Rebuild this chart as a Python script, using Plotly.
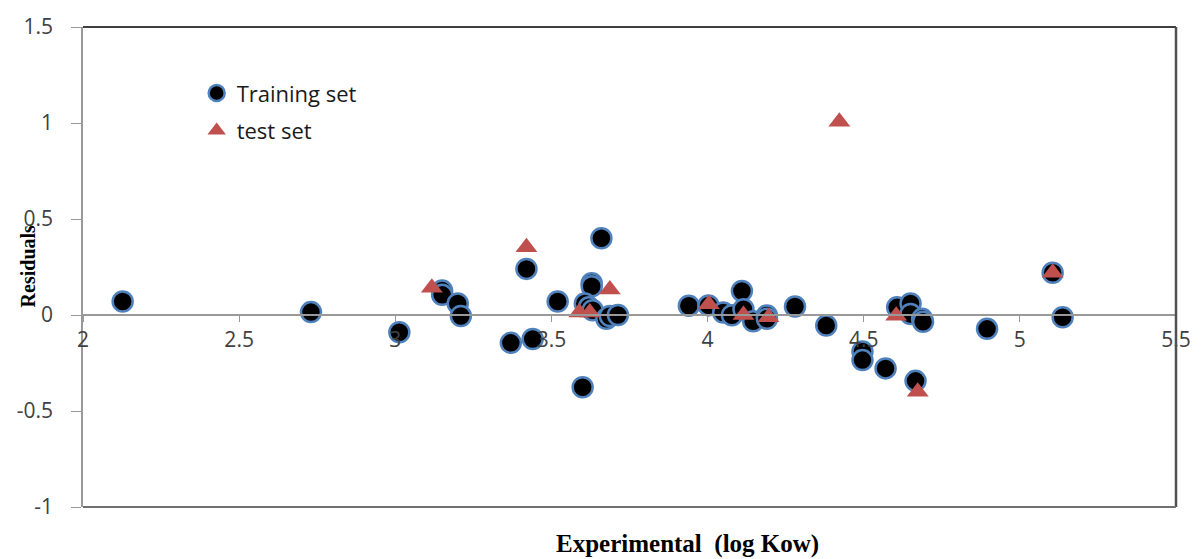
import plotly.graph_objects as go

# Training set (Experimental log Kow, residual)
train_x = [2.127, 2.73, 3.013, 3.15, 3.15, 3.20, 3.21, 3.37, 3.44, 3.42, 3.52, 3.66,
           3.629, 3.629, 3.607, 3.62, 3.632, 3.676, 3.687, 3.713, 3.60, 3.94, 4.003,
           4.05, 4.078, 4.11, 4.115, 4.146, 4.19, 4.19, 4.28, 4.38, 4.496, 4.496, 4.57,
           4.607, 4.65, 4.65, 4.666, 4.687, 4.69, 4.895, 5.105, 5.137]
train_y = [0.07, 0.015, -0.09, 0.127, 0.105, 0.06, -0.005, -0.145, -0.125, 0.24, 0.07, 0.40,
           0.165, 0.15, 0.06, 0.04, 0.025, -0.02, -0.005, 0.0, -0.376, 0.048, 0.05,
           0.013, -0.001, 0.125, 0.03, -0.033, -0.002, -0.02, 0.044, -0.055, -0.19, -0.235, -0.278,
           0.04, 0.06, 0.005, -0.343, -0.02, -0.035, -0.072, 0.22, -0.012]

# Test set
test_x = [3.117, 3.42, 3.687, 3.589, 3.623, 4.004, 4.115, 4.195, 4.422, 4.604, 4.673, 5.105]
test_y = [0.142, 0.353, 0.133, 0.013, 0.013, 0.056, 0.0, -0.012, 1.006, -0.004, -0.40, 0.22]

x_ticks = [2, 2.5, 3, 3.5, 4, 4.5, 5, 5.5]
x_labels = ["2", "2.5", "3", "3.5", "4", "4.5", "5", "5.5"]
y_ticks = [-1, -0.5, 0, 0.5, 1, 1.5]
y_labels = ["-1", "-0.5", "0", "0.5", "1", "1.5"]

fig = go.Figure()
fig.add_trace(go.Scatter(
    x=train_x, y=train_y, mode="markers", name="Training set", legendgroup="a",
    marker=dict(symbol="circle", size=20, color="black",
                line=dict(color="#4F81BD", width=2.5)),
))
fig.add_trace(go.Scatter(
    x=test_x, y=test_y, mode="markers", name="test set", legendgroup="b",
    marker=dict(symbol="triangle-up", size=19, color="#C0504D",
                line=dict(color="#C0504D", width=0)),
))

tick_font = dict(family="Open Sans", size=21, color="#404040")

fig.update_layout(
    width=1203, height=559,
    margin=dict(l=83, r=19, t=21, b=52),
    paper_bgcolor="white", plot_bgcolor="white",
    showlegend=True,
    legend=dict(x=0.104, y=0.906, xanchor="left", yanchor="top",
                font=dict(family="Open Sans", size=22, color="#1a1a1a"),
                bgcolor="rgba(0,0,0,0)", tracegroupgap=6, traceorder="grouped"),
    xaxis=dict(range=[2, 5.5], tickvals=x_ticks, ticktext=x_labels,
               anchor="free", position=0.4, showline=True, linecolor="#999999", linewidth=1.5,
               ticks="outside", ticklen=6, tickcolor="#999999", showgrid=False, zeroline=False,
               tickfont=tick_font),
    yaxis=dict(range=[-1, 1.5], tickvals=y_ticks, ticktext=y_labels,
               showline=True, linecolor="#999999", linewidth=1.5,
               ticks="outside", ticklen=10, tickcolor="#999999", showgrid=False, zeroline=False,
               tickfont=tick_font, ticklabelstandoff=14),
    shapes=[
        dict(type="line", xref="paper", yref="paper", x0=0, x1=1, y0=1, y1=1,
             line=dict(color="#404040", width=2)),
        dict(type="line", xref="paper", yref="paper", x0=1, x1=1, y0=0, y1=1,
             line=dict(color="#505050", width=2.5)),
        dict(type="line", xref="paper", yref="paper", x0=0, x1=1, y0=0, y1=0,
             line=dict(color="#707070", width=2)),
    ],
    annotations=[
        dict(text="<b>Residuals</b>", xref="paper", yref="paper", x=-0.05, y=0.502,
             textangle=-90, showarrow=False, xanchor="center", yanchor="middle",
             font=dict(family="Liberation Serif", size=20, color="black")),
        dict(text="<b>Experimental  (log Kow)</b>", xref="paper", yref="paper", x=0.553, y=-0.078,
             showarrow=False, xanchor="center", yanchor="middle",
             font=dict(family="Liberation Serif", size=25, color="black")),
    ],
)

fig.write_html("out.html", config={"displayModeBar": False},
               post_script="document.body.style.margin='0';document.body.style.overflow='hidden';")
